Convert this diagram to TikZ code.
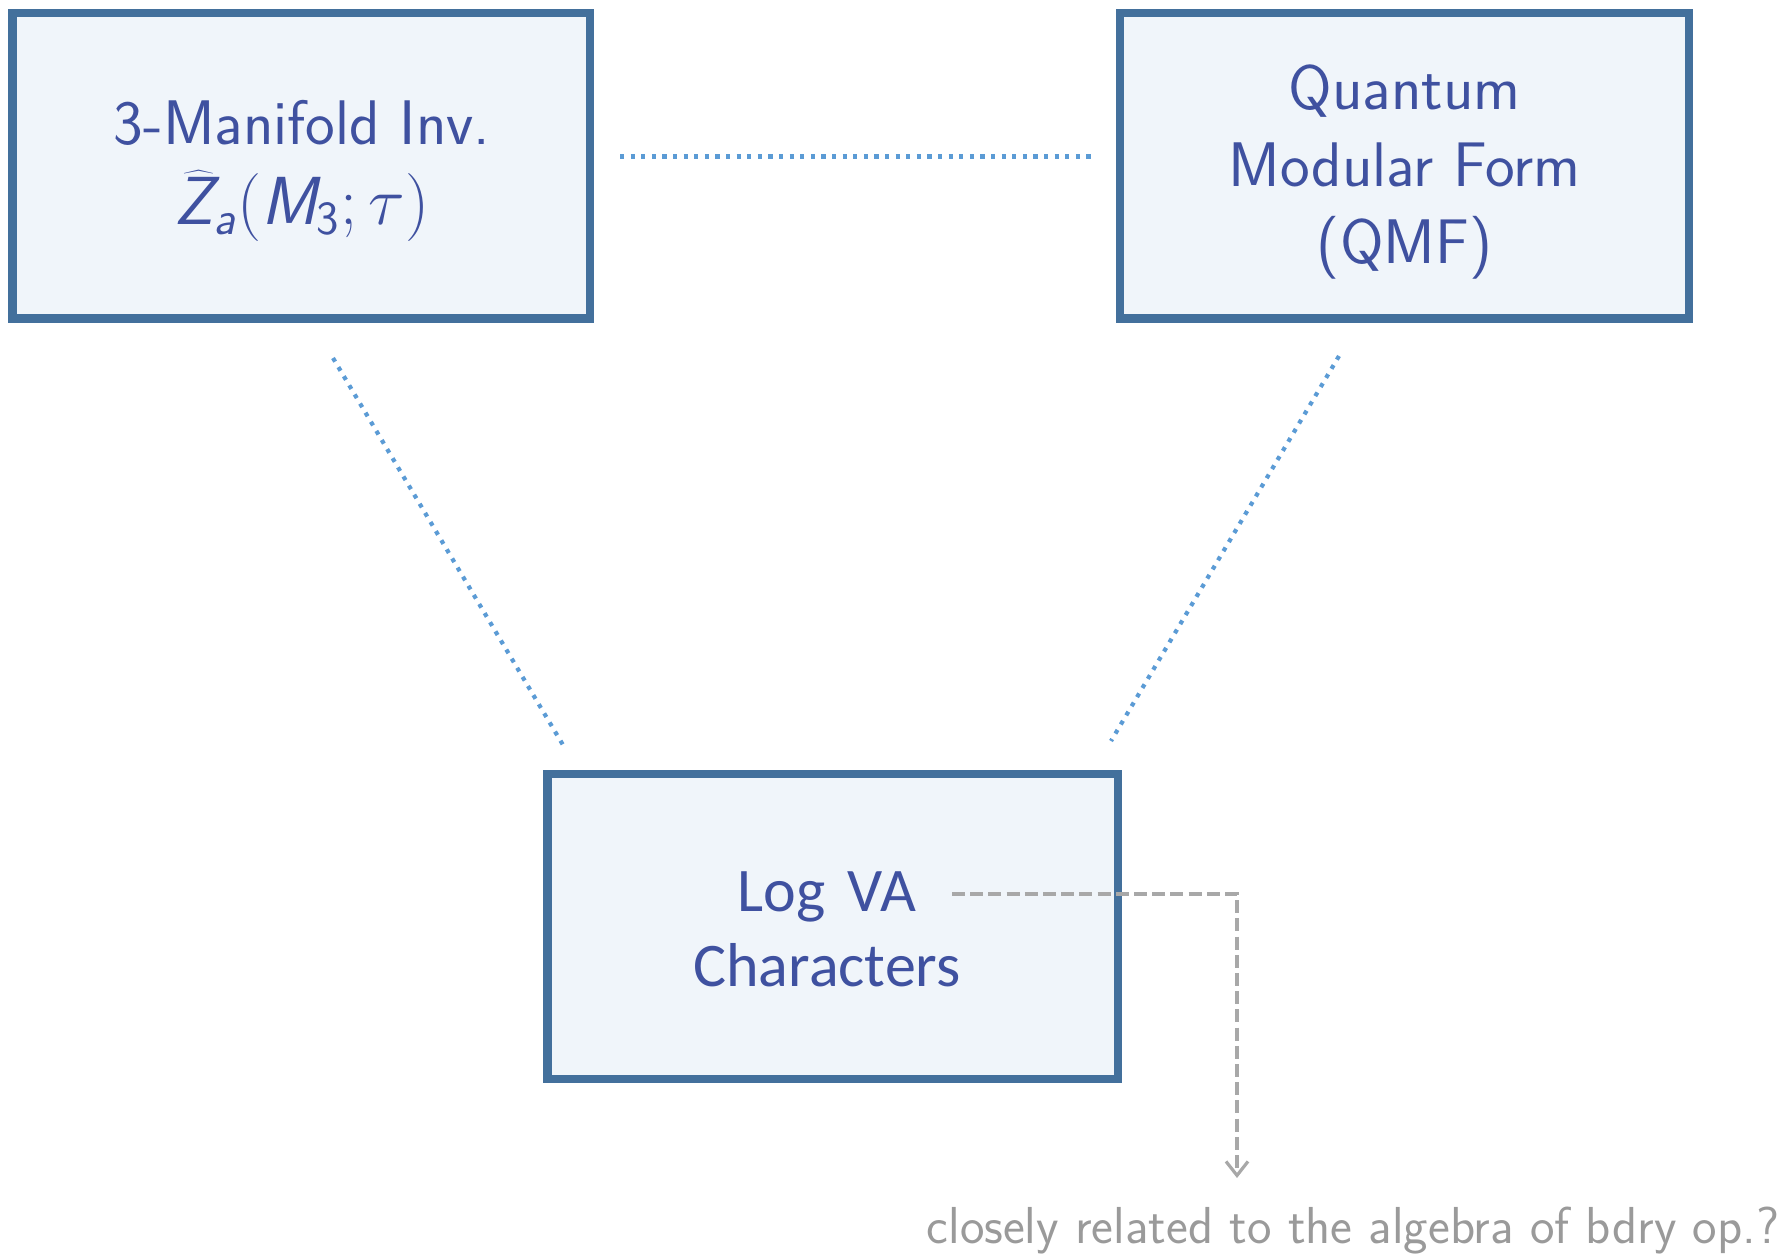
\RequirePackage{fix-cm}
\documentclass[tikz,border=0pt]{standalone}
\usepackage{fontspec}
\usetikzlibrary{arrows.meta}
\newfontfamily\carlito{Carlito}
\DeclareMathAlphabet{\mathsfsl}{OT1}{cmss}{m}{sl}
\definecolor{boxborder}{HTML}{43709C}
\definecolor{boxfill}{HTML}{F0F5FA}
\definecolor{boxtext}{HTML}{3F51A0}
\definecolor{dotblue}{HTML}{5B9BD5}
\definecolor{notegray}{HTML}{A8A8A8}
\definecolor{notetext}{HTML}{9A9A9A}
\tikzset{
  mainbox/.style={draw=boxborder, fill=boxfill, line width=4.25pt, rectangle, inner sep=0pt},
  boxlabel/.style={align=center, text=boxtext, inner sep=0pt, font=\sffamily\fontsize{31.5}{39}\selectfont},
  dotlink/.style={draw=dotblue, line width=2.1pt, dash pattern=on 2.1pt off 3.2pt},
  graylink/.style={draw=notegray, line width=1.6pt, dash pattern=on 6.5pt off 2.6pt},
}
\begin{document}
\begin{tikzpicture}[x=0.5pt, y=-0.5pt]
\useasboundingbox (0,0) rectangle (1783,1254);
% boxes
\node[mainbox, minimum width=288.75pt, minimum height=152.75pt] (mfd) at (301.25,165.75) {};
\node[mainbox, minimum width=284.5pt, minimum height=152.75pt] (qmf) at (1404.5,165.75) {};
\node[mainbox, minimum width=285.25pt, minimum height=152.5pt] (logva) at (832.75,926.5) {};
% box texts
\node[boxlabel, anchor=base] (mfdtop) at (302,144) {3-Manifold Inv.};
\node[boxlabel, anchor=base, font=\sffamily\fontsize{34}{40}\selectfont] (mfdmath) at (302,224)
  {$\widehat{\mathsfsl{Z}}_{\mathsfsl{a}}(\mathsfsl{M}_{\mathsf{3}};\tau)$};
\node[boxlabel, font=\sffamily\fontsize{31.5}{38.6}\selectfont] (qmftext) at (1404.5,172)
  {Quantum\\Modular Form\\(QMF)};
\node[boxlabel, font=\carlito\fontsize{31}{37.5}\selectfont] (logvatext) at (827,929)
  {Log\hspace{4pt} VA\\Characters};
\node[text=notetext, font=\sffamily\fontsize{26}{30}\selectfont, anchor=center, inner sep=0pt] (note) at (1353,1231)
  {closely related to the algebra of bdry op.?};
% dotted connectors
\coordinate (h1) at (620,156.5);
\coordinate (h2) at (1094,156.5);
\coordinate (l1) at (333,358);
\coordinate (l2) at (563,745);
\coordinate (r1) at (1339,356);
\coordinate (r2) at (1111,741);
\draw[dotlink] (h1) -- (h2);
\draw[dotlink] (l1) -- (l2);
\draw[dotlink] (r1) -- (r2);
% gray dashed annotation
\coordinate (g0) at (952,894);
\coordinate (g1) at (1237,894);
\coordinate (g2) at (1237,1178);
\draw[graylink, -{Straight Barb[length=7pt,width=11pt,line width=1.6pt]}] (g0) -- (g1) -- (g2);
\end{tikzpicture}
\end{document}
